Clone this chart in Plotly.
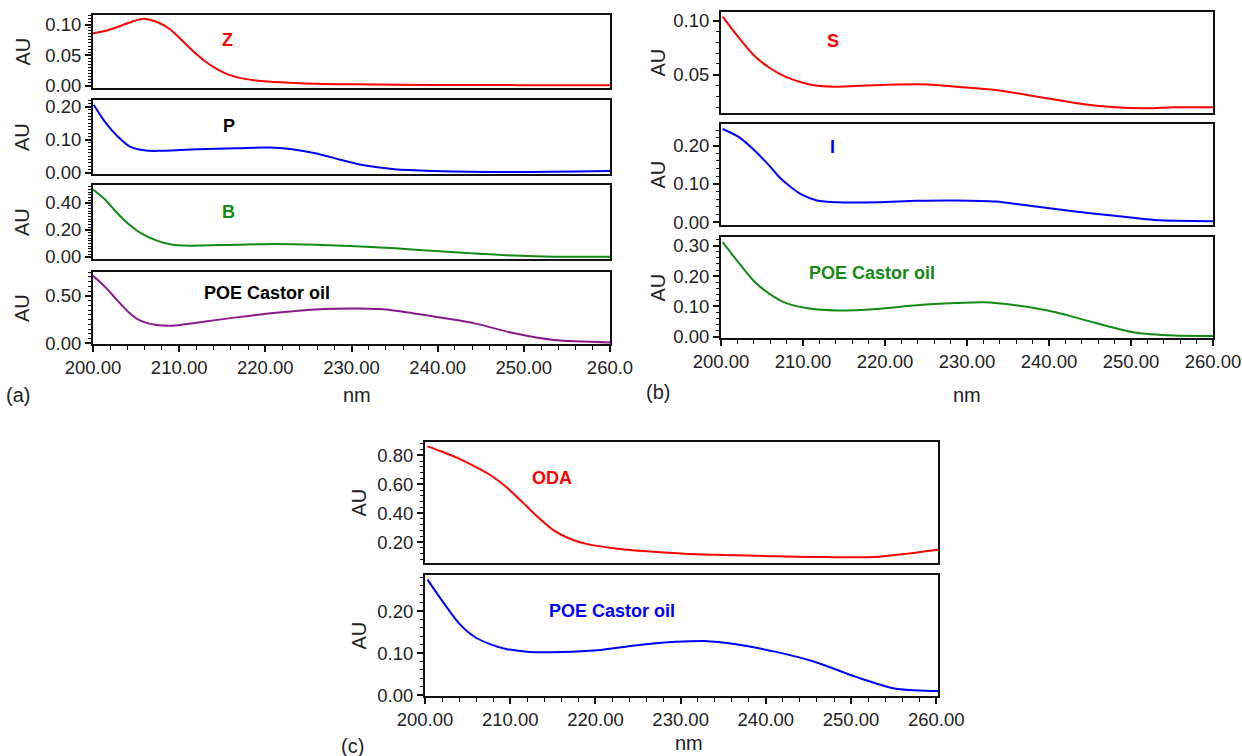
import plotly.graph_objects as go

W, H = 1242, 756
FONT = "Liberation Sans, Arial, sans-serif"

# ---------------- data (nm, AU) ----------------
Z_nm = [200.0, 201.5, 203.0, 204.5, 205.9, 207.5, 208.9, 210.2, 211.6, 213.0, 214.4, 215.7, 217.6, 220.3, 224.0, 230.4, 239.6, 250.0, 260.0]
Z_au = [0.086, 0.090, 0.097, 0.105, 0.110, 0.104, 0.093, 0.076, 0.057, 0.040, 0.027, 0.018, 0.011, 0.0066, 0.004, 0.002, 0.001, 0.0007, 0.0005]

P_nm = [200.1, 201.5, 202.9, 204.3, 206.1, 207.5, 212.1, 216.7, 220.3, 223.1, 225.8, 228.6, 231.3, 235.0, 239.6, 248.8, 260.0]
P_au = [0.205, 0.150, 0.109, 0.079, 0.067, 0.066, 0.071, 0.074, 0.076, 0.071, 0.059, 0.040, 0.023, 0.010, 0.005, 0.002, 0.005]

B_nm = [200.0, 201.4, 202.8, 204.2, 205.5, 207.4, 209.2, 211.1, 216.6, 221.2, 225.8, 230.5, 235.1, 239.7, 244.3, 248.9, 253.5, 260.0]
B_au = [0.499, 0.425, 0.326, 0.240, 0.178, 0.121, 0.091, 0.084, 0.091, 0.096, 0.091, 0.079, 0.064, 0.044, 0.025, 0.010, 0.002, 0.002]

POEa_nm = [200.0, 201.4, 202.8, 204.2, 205.5, 207.4, 209.2, 212.0, 216.6, 221.2, 225.8, 230.5, 233.2, 235.1, 239.7, 244.3, 248.9, 253.5, 260.0]
POEa_au = [0.710, 0.594, 0.455, 0.322, 0.238, 0.192, 0.185, 0.217, 0.273, 0.322, 0.357, 0.367, 0.360, 0.343, 0.280, 0.210, 0.105, 0.035, 0.010]

S_nm = [200.2, 202.1, 204.0, 206.0, 207.9, 210.8, 213.7, 217.6, 221.4, 225.3, 228.7, 233.5, 238.4, 243.2, 248.0, 251.9, 255.3, 260.0]
S_au = [0.1037, 0.085, 0.068, 0.056, 0.048, 0.041, 0.039, 0.040, 0.041, 0.041, 0.039, 0.036, 0.030, 0.024, 0.020, 0.019, 0.020, 0.020]

I_nm = [200.2, 202.1, 204.0, 206.0, 207.0, 208.5, 209.8, 211.7, 214.2, 219.0, 223.9, 228.7, 233.5, 238.4, 243.2, 248.0, 252.9, 260.0]
I_au = [0.243, 0.223, 0.189, 0.145, 0.120, 0.092, 0.073, 0.057, 0.052, 0.052, 0.056, 0.057, 0.054, 0.041, 0.028, 0.017, 0.006, 0.003]

POEb_nm = [200.2, 202.1, 204.0, 206.0, 207.9, 210.8, 214.2, 219.0, 223.9, 228.7, 232.1, 235.9, 240.8, 245.6, 250.5, 255.3, 260.0]
POEb_au = [0.312, 0.246, 0.184, 0.140, 0.112, 0.093, 0.087, 0.092, 0.104, 0.111, 0.114, 0.104, 0.081, 0.046, 0.014, 0.004, 0.003]

ODA_nm = [200.3, 202.1, 204.0, 205.8, 207.7, 209.5, 211.4, 213.3, 215.1, 217.0, 218.8, 222.6, 227.2, 231.9, 236.5, 241.2, 245.8, 250.5, 253.3, 256.0, 260.3]
ODA_au = [0.862, 0.823, 0.777, 0.724, 0.662, 0.582, 0.478, 0.369, 0.281, 0.223, 0.189, 0.154, 0.131, 0.115, 0.108, 0.101, 0.097, 0.094, 0.099, 0.115, 0.147]

POEc_nm = [200.3, 202.1, 204.0, 205.8, 207.7, 209.5, 212.3, 216.0, 220.2, 224.9, 229.5, 232.8, 236.5, 241.2, 245.8, 250.5, 255.1, 259.8, 260.7]
POEc_au = [0.275, 0.222, 0.171, 0.139, 0.121, 0.110, 0.103, 0.103, 0.107, 0.119, 0.127, 0.129, 0.121, 0.103, 0.079, 0.044, 0.016, 0.010, 0.010]

X_TICKS = [200, 210, 220, 230, 240, 250, 260]
X_TICKTEXT_A = ["200.00", "210.00", "220.00", "230.00", "240.00", "250.00", "260.0"]
X_TICKTEXT = ["200.00", "210.00", "220.00", "230.00", "240.00", "250.00", "260.00"]

# --------------- layout geometry (pixels) ---------------
panels = [
    dict(xpx=(93, 610), xr=[200, 260], ttext=X_TICKTEXT_A, nm=(357, 395), tag=("(a)", 18, 395), au_x=22,
         rows=[
             dict(ypx=(15, 88), yr=[-0.004, 0.116], dtick=0.05, minor=0.005, x=Z_nm, y=Z_au, color="#ff0000",
                  label="Z", lcolor="#ff0000", lx=0.261, ly=0.66),
             dict(ypx=(100, 174), yr=[-0.004, 0.22], dtick=0.1, minor=0.01, x=P_nm, y=P_au, color="#0000ff",
                  label="P", lcolor="#000000", lx=0.263, ly=0.65),
             dict(ypx=(185, 259), yr=[-0.015, 0.533], dtick=0.2, minor=0.02, x=B_nm, y=B_au, color="#138a13",
                  label="B", lcolor="#138a13", lx=0.263, ly=0.635),
             dict(ypx=(272, 344), yr=[-0.007, 0.75], dtick=0.5, minor=0.05, x=POEa_nm, y=POEa_au, color="#8a1a8a",
                  label="POE Castor oil", lcolor="#000000", lx=0.337, ly=0.71),
         ]),
    dict(xpx=(721, 1213), xr=[200, 260], ttext=X_TICKTEXT, nm=(967, 395), tag=("(b)", 658, 392), au_x=657,
         rows=[
             dict(ypx=(12, 113), yr=[0.0147, 0.108], dtick=0.05, minor=0.01, x=S_nm, y=S_au, color="#ff0000",
                  label="S", lcolor="#ff0000", lx=0.228, ly=0.71),
             dict(ypx=(124, 225), yr=[-0.007, 0.256], dtick=0.1, minor=0.02, x=I_nm, y=I_au, color="#0000ff",
                  label="I", lcolor="#0000ff", lx=0.226, ly=0.77),
             dict(ypx=(237, 338), yr=[-0.004, 0.329], dtick=0.1, minor=0.02, x=POEb_nm, y=POEb_au, color="#138a13",
                  label="POE Castor oil", lcolor="#138a13", lx=0.307, ly=0.64),
         ]),
    dict(xpx=(425, 938), xr=[200, 260.2], ttext=X_TICKTEXT, nm=(689, 743), tag=("(c)", 352, 746), au_x=358,
         rows=[
             dict(ypx=(442, 563), yr=[0.055, 0.892], dtick=0.2, minor=0.04, x=ODA_nm, y=ODA_au, color="#ff0000",
                  label="ODA", lcolor="#ff0000", lx=0.248, ly=0.70),
             dict(ypx=(575, 696), yr=[-0.002, 0.286], dtick=0.1, minor=0.02, x=POEc_nm, y=POEc_au, color="#0000ff",
                  label="POE Castor oil", lcolor="#0000ff", lx=0.365, ly=0.70),
         ]),
]

fig = go.Figure()
layout = {}
annotations = []


def px_x(x):
    return x / W


def px_y(y):
    return 1 - y / H


TICKFONT = dict(family=FONT, size=18.5, color="#222")

k = 0
for p in panels:
    nrows = len(p["rows"])
    for i, r in enumerate(p["rows"]):
        k += 1
        sfx = "" if k == 1 else str(k)
        xa, ya = "xaxis" + sfx, "yaxis" + sfx
        xref, yref = "x" + sfx, "y" + sfx
        bottom = (i == nrows - 1)
        fig.add_trace(go.Scatter(x=r["x"], y=r["y"], mode="lines", xaxis=xref, yaxis=yref,
                                 line=dict(color=r["color"], width=2, shape="spline", smoothing=0.8),
                                 showlegend=False, hoverinfo="skip"))
        xax = dict(domain=[px_x(p["xpx"][0]), px_x(p["xpx"][1])], range=p["xr"], anchor=yref,
                   showgrid=False, zeroline=False, showline=True, linecolor="#111", linewidth=2, mirror=True,
                   fixedrange=True, automargin=False)
        if bottom:
            xax.update(tickmode="array", tickvals=X_TICKS, ticktext=p["ttext"], ticks="outside", ticklen=6,
                       tickwidth=1.5, tickcolor="#111", tickfont=TICKFONT,
                       minor=dict(dtick=2, tick0=200, ticks="outside", ticklen=4, tickcolor="#111", tickwidth=1.2))
        else:
            xax.update(showticklabels=False, ticks="")
        yax = dict(domain=[px_y(r["ypx"][1]), px_y(r["ypx"][0])], range=r["yr"], anchor=xref,
                   showgrid=False, zeroline=False, showline=True, linecolor="#111", linewidth=2, mirror=True,
                   tickmode="linear", tick0=0, dtick=r["dtick"], tickformat=".2f", ticks="outside", ticklen=6,
                   tickwidth=1.5, tickcolor="#111", tickfont=TICKFONT,
                   minor=dict(dtick=r["minor"], tick0=0, ticks="outside", ticklen=3, tickcolor="#111", tickwidth=1.2),
                   fixedrange=True, automargin=False)
        layout[xa] = xax
        layout[ya] = yax
        annotations.append(dict(text="<b>" + r["label"] + "</b>", xref=xref + " domain", yref=yref + " domain",
                                x=r["lx"], y=r["ly"], showarrow=False, xanchor="center", yanchor="middle",
                                font=dict(family=FONT, size=18, color=r["lcolor"])))
        annotations.append(dict(text="AU", xref="paper", yref="paper", x=px_x(p["au_x"]),
                                y=px_y((r["ypx"][0] + r["ypx"][1]) / 2), textangle=-90, showarrow=False,
                                xanchor="center", yanchor="middle",
                                font=dict(family=FONT, size=20, color="#222")))
    annotations.append(dict(text="nm", xref="paper", yref="paper", x=px_x(p["nm"][0]), y=px_y(p["nm"][1]),
                            showarrow=False, xanchor="center", yanchor="middle",
                            font=dict(family=FONT, size=20, color="#222")))
    annotations.append(dict(text=p["tag"][0], xref="paper", yref="paper", x=px_x(p["tag"][1]),
                            y=px_y(p["tag"][2]), showarrow=False, xanchor="center", yanchor="middle",
                            font=dict(family=FONT, size=20, color="#222")))

fig.update_layout(width=W, height=H, margin=dict(l=0, r=0, t=0, b=0, autoexpand=False),
                  paper_bgcolor="white", plot_bgcolor="white", annotations=annotations, **layout)

fig.write_html("out.html", config={"displayModeBar": False})
